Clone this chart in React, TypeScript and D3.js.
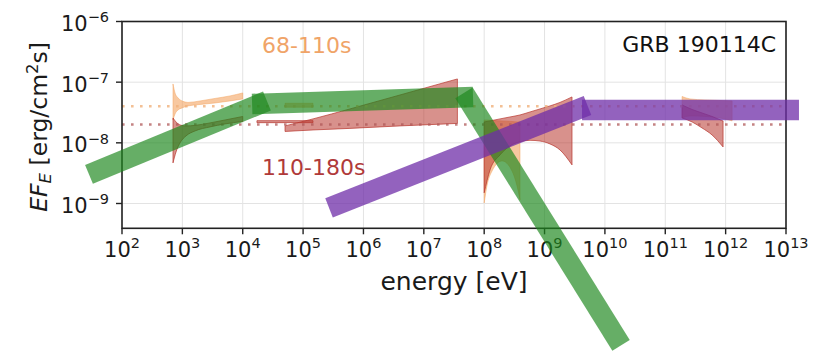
import React from "react";
import * as d3 from "d3";

const W = 825;
const H = 356;

// axis definitions
const X_DOMAIN: [number, number] = [1e2, 1e13];
const Y_DOMAIN: [number, number] = [3.9e-10, 1e-6];
const X_TICK_EXP = [2, 3, 4, 5, 6, 7, 8, 9, 10, 11, 12, 13];
const Y_TICK_EXP = [-9, -8, -7, -6];

// butterflies: [energy eV, lower EF_E, upper EF_E]
type Pt = [number, number, number];
const xrayEarly: Pt[] = [
  [700, 2.38e-8, 9.34e-8],
  [755, 2.99e-8, 6.64e-8],
  [847, 3.48e-8, 5.5e-8],
  [987, 3.76e-8, 4.9e-8],
  [1240, 4.06e-8, 4.63e-8],
  [1960, 4.29e-8, 4.9e-8],
  [3470, 4.54e-8, 5.39e-8],
  [6150, 4.9e-8, 5.93e-8],
  [1.0e4, 5.29e-8, 6.64e-8],
];
const xrayLate: Pt[] = [
  [700, 4.67e-9, 2.57e-8],
  [785, 7.08e-9, 2.21e-8],
  [914, 9.96e-9, 1.97e-8],
  [1150, 1.3e-8, 1.9e-8],
  [1620, 1.57e-8, 1.94e-8],
  [2870, 1.83e-8, 2.13e-8],
  [5090, 2.05e-8, 2.38e-8],
  [1.0e4, 2.25e-8, 2.72e-8],
];
const gbmEarly: Pt[] = [
  [5.02e4, 3.86e-8, 4.49e-8],
  [1.46e5, 3.86e-8, 4.49e-8],
];
const gbmLateThin: Pt[] = [
  [1.72e4, 2.15e-8, 2.32e-8],
  [1.46e5, 2.15e-8, 2.32e-8],
];
const gbmLate: Pt[] = [
  [5.02e4, 1.54e-8, 1.9e-8],
  [1.46e5, 1.63e-8, 2.48e-8],
  [5.98e5, 1.73e-8, 3.62e-8],
  [4.03e6, 1.9e-8, 6.15e-8],
  [3.6e7, 2.09e-8, 1.13e-7],
];
const latEarly: Pt[] = [
  [1.0e8, 1.02e-9, 2.38e-8],
  [1.11e8, 1.95e-9, 2.38e-8],
  [1.35e8, 3.44e-9, 2.34e-8],
  [1.98e8, 5.04e-9, 2.3e-8],
  [2.89e8, 3.44e-9, 2.25e-8],
  [3.5e8, 1.95e-9, 2.21e-8],
  [3.92e8, 1.15e-9, 2.21e-8],
];
const latLate: Pt[] = [
  [1.0e8, 1.5e-9, 2.21e-8],
  [1.25e8, 3.58e-9, 2.3e-8],
  [1.83e8, 6.32e-9, 2.48e-8],
  [2.68e8, 8.89e-9, 2.67e-8],
  [3.92e8, 1.04e-8, 2.88e-8],
  [5.75e8, 1.1e-8, 3.23e-8],
  [8.41e8, 1.07e-8, 3.62e-8],
  [1.23e9, 9.59e-9, 4.06e-8],
  [1.8e9, 7.64e-9, 4.63e-8],
  [2.85e9, 4.33e-9, 5.71e-8],
];
const tevEarly: Pt[] = [
  [1.9e11, 2.57e-8, 5.81e-8],
  [2.57e11, 2.77e-8, 5.29e-8],
  [4.56e11, 2.72e-8, 5.09e-8],
  [8.07e11, 2.57e-8, 4.99e-8],
  [1.28e12, 2.3e-8, 4.9e-8],
];
const tevLate: Pt[] = [
  [1.9e11, 2.57e-8, 4.21e-8],
  [2.78e11, 2.21e-8, 3.55e-8],
  [4.06e11, 1.76e-8, 3.11e-8],
  [5.95e11, 1.35e-8, 2.72e-8],
  [9.06e11, 8.56e-9, 2.29e-8],
];

const EARLY_LEVEL = 4e-8;
const LATE_LEVEL = 2e-8;

// thick annotation strokes: [[E1, F1], [E2, F2]]
type Seg = [[number, number], [number, number]];
const greenSegs: Seg[] = [
  [[28.4, 3.02e-9], [2.52e4, 4.9e-8]],
  [[1.43e4, 4.37e-8], [6.53e7, 5.7e-8]],
  [[4.63e7, 6.64e-8], [1.85e10, 4.59e-12]],
];
const purpleSegs: Seg[] = [
  [[2.69e5, 8.46e-10], [5.15e9, 4.13e-8]],
  [[4.18e9, 3.48e-8], [1.64e13, 3.48e-8]],
];

const FONT = "'DejaVu Sans', sans-serif";
const EARLY_COLOR = "#f4a460";
const LATE_COLOR = "#b8362e";

export default function App() {
  const left = 122, right = 786, top = 21.5, bottom = 228.3;
  const x = d3.scaleLog().domain(X_DOMAIN).range([left, right]);
  const y = d3.scaleLog().domain(Y_DOMAIN).range([bottom, top]);

  const area = d3
    .area<Pt>()
    .x((d) => x(d[0]))
    .y0((d) => y(d[1]))
    .y1((d) => y(d[2]))
    .curve(d3.curveMonotoneX);

  const line = d3
    .line<[number, number]>()
    .x((d) => x(d[0]))
    .y((d) => y(d[1]));

  const band = (data: Pt[], color: string, op: number, key: string, strokeOp = 0.7) => (
    <path
      key={key}
      d={area(data) || ""}
      fill={color}
      fillOpacity={op}
      stroke={color}
      strokeOpacity={strokeOp}
      strokeWidth={1}
    />
  );

  return (
    <svg
      width={W}
      height={H}
      style={{ position: "absolute", left: 0, top: 0, background: "#fff" }}
      fontFamily={FONT}
    >
      <rect x={0} y={0} width={W} height={H} fill="#fff" />
      {/* grid */}
      {X_TICK_EXP.map((e) => (
        <line key={"gx" + e} x1={x(10 ** e)} x2={x(10 ** e)} y1={top} y2={bottom} stroke="#e3e3e3" strokeWidth={1} />
      ))}
      {Y_TICK_EXP.map((e) => (
        <line key={"gy" + e} x1={left} x2={right} y1={y(10 ** e)} y2={y(10 ** e)} stroke="#e3e3e3" strokeWidth={1} />
      ))}

      {/* butterflies */}
      {band(xrayEarly, EARLY_COLOR, 0.6, "xe", 0.5)}
      {band(gbmEarly, EARLY_COLOR, 0.6, "ge", 0.5)}
      {band(latEarly, EARLY_COLOR, 0.6, "le", 0.5)}
      {band(tevEarly, EARLY_COLOR, 0.6, "te", 0.5)}
      {band(xrayLate, LATE_COLOR, 0.55, "xl")}
      {band(gbmLateThin, LATE_COLOR, 0.55, "glt")}
      {band(gbmLate, LATE_COLOR, 0.55, "gl")}
      {band(latLate, LATE_COLOR, 0.55, "ll")}
      {band(tevLate, LATE_COLOR, 0.55, "tl")}

      {/* reference levels */}
      <line x1={left} x2={right} y1={y(EARLY_LEVEL)} y2={y(EARLY_LEVEL)} stroke="#f0b07a" strokeOpacity={0.8} strokeWidth={2.6} strokeDasharray="2.6 6.4" />
      <line x1={left} x2={right} y1={y(LATE_LEVEL)} y2={y(LATE_LEVEL)} stroke="#b05a5a" strokeOpacity={0.75} strokeWidth={2.6} strokeDasharray="2.6 6.4" />

      {/* spines */}
      <rect x={left} y={top} width={right - left} height={bottom - top} fill="none" stroke="#222" strokeWidth={1.6} />

      {/* x ticks */}
      {X_TICK_EXP.map((e) => (
        <g key={"xt" + e}>
          <line x1={x(10 ** e)} x2={x(10 ** e)} y1={bottom} y2={bottom + 6} stroke="#222" strokeWidth={1.4} />
          <text x={x(10 ** e)} y={256.7} textAnchor="middle" fontSize={21} fill="#1a1a1a">
            10
            <tspan dy={-8.6} fontSize={14.5}>
              {String(e)}
            </tspan>
          </text>
        </g>
      ))}
      {/* y ticks */}
      {Y_TICK_EXP.map((e) => (
        <g key={"yt" + e}>
          <line x1={left - 6} x2={left} y1={y(10 ** e)} y2={y(10 ** e)} stroke="#222" strokeWidth={1.4} />
          <text x={109} y={y(10 ** e) + 9.4} textAnchor="end" fontSize={21} fill="#1a1a1a">
            10
            <tspan dy={-8.6} fontSize={14.5}>
              {"\u2212" + String(-e)}
            </tspan>
          </text>
        </g>
      ))}

      {/* axis labels */}
      <text x={(left + right) / 2} y={290} textAnchor="middle" fontSize={25} fill="#1a1a1a">
        energy [eV]
      </text>
      <text transform={`translate(47, ${(top + bottom) / 2 + 2}) rotate(-90)`} textAnchor="middle" fontSize={23.5} fill="#1a1a1a">
        <tspan fontStyle="italic">EF</tspan>
        <tspan fontStyle="italic" fontSize={16.5} dy={4}>E</tspan>
        <tspan dy={-4}> [erg/cm</tspan>
        <tspan fontSize={16.5} dy={-9.5}>2</tspan>
        <tspan dy={9.5}>s]</tspan>
      </text>

      {/* annotations */}
      <text x={262} y={53} fontSize={22} fill="#f0a468">68-110s</text>
      <text x={262} y={175} fontSize={22} fill="#b03a3a">110-180s</text>
      <text x={776} y={52} textAnchor="end" fontSize={22} fill="#111">GRB 190114C</text>

      {/* thick strokes */}
      {greenSegs.map((s, i) => (
        <path key={"g" + i} d={line(s) || ""} stroke="#1e881e" strokeOpacity={0.68} strokeWidth={20.5} fill="none" strokeLinecap="butt" />
      ))}
      {purpleSegs.map((s, i) => (
        <path key={"p" + i} d={line(s) || ""} stroke="#6f2da8" strokeOpacity={0.75} strokeWidth={20.5} fill="none" strokeLinecap="butt" />
      ))}
    </svg>
  );
}
